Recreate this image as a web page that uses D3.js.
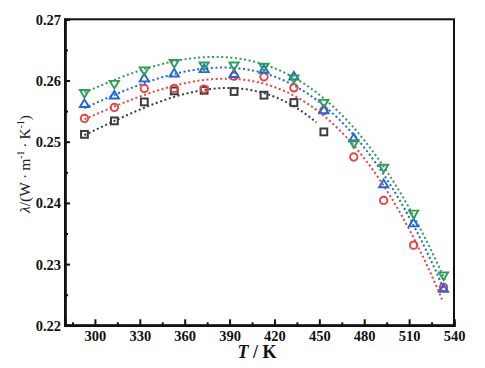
<!DOCTYPE html>
<html>
<head>
<meta charset="utf-8">
<script src="https://cdn.jsdelivr.net/npm/d3@7"></script>
<style>
  html, body { margin: 0; padding: 0; background: #fff; }
  svg { display: block; }
</style>
</head>
<body>
<svg id="chart" width="485" height="368"></svg>
<script>
// ---- data ----
const temps = [293, 313, 333, 353, 373, 393, 413, 433, 453, 473, 493, 513, 533];
const seriesBlack = [0.2512, 0.2534, 0.2565, 0.2583, 0.2584, 0.2582, 0.2576, 0.2564, 0.2516];
const seriesRed   = [0.2538, 0.2556, 0.2587, 0.2587, 0.2586, 0.2607, 0.2606, 0.2588, 0.2551, 0.2475, 0.2404, 0.2331, 0.2262];
const seriesBlue  = [0.2562, 0.2576, 0.2604, 0.2612, 0.2619, 0.2611, 0.2618, 0.2607, 0.2552, 0.2506, 0.2431, 0.2367, 0.2260];
const seriesGreen = [0.2579, 0.2594, 0.2616, 0.2628, 0.2624, 0.2624, 0.2622, 0.2603, 0.2563, 0.2497, 0.2457, 0.2382, 0.2281];

// dotted trend curves (samples)
const fitTBlack = [293, 313, 333, 353, 373, 393, 413, 433, 448];
const fitBlack  = [0.2511, 0.2533, 0.2556, 0.2574, 0.2585, 0.2586, 0.2578, 0.2561, 0.2530];
const fitTRed   = [293, 313, 333, 353, 373, 393, 413, 433, 453, 473, 493, 513, 532];
const fitRed    = [0.2538, 0.2557, 0.2575, 0.2591, 0.2600, 0.2602, 0.2596, 0.2580, 0.2543, 0.2490, 0.2428, 0.2340, 0.2245];
const fitTBlue  = [293, 313, 333, 353, 373, 393, 413, 433, 453, 473, 493, 513, 533];
const fitBlue   = [0.2556, 0.2574, 0.2598, 0.2611, 0.2617, 0.2617, 0.2613, 0.2598, 0.2562, 0.2509, 0.2440, 0.2364, 0.2262];
const fitTGreen = [293, 313, 333, 353, 373, 393, 413, 433, 453, 473, 493, 513, 534];
const fitGreen  = [0.2582, 0.2598, 0.2619, 0.2632, 0.2638, 0.2635, 0.2626, 0.2609, 0.2574, 0.2518, 0.2456, 0.2381, 0.2274];

const xTicks = [300, 330, 360, 390, 420, 450, 480, 510, 540];
const yTicks = [0.22, 0.23, 0.24, 0.25, 0.26, 0.27];

const series = [
  { values: seriesBlack, fitT: fitTBlack, fit: fitBlack, color: "#3c3c3c", marker: "square" },
  { values: seriesRed,   fitT: fitTRed,   fit: fitRed,   color: "#ec3f3f", marker: "circle" },
  { values: seriesBlue,  fitT: fitTBlue,  fit: fitBlue,  color: "#1f66dc", marker: "triangle" },
  { values: seriesGreen, fitT: fitTGreen, fit: fitGreen, color: "#2f9e55", marker: "triangleDown" }
];

// ---- layout ----
const svg = d3.select("#chart");
const margin = { left: 65, right: 31, top: 19.3, bottom: 42.7 };
const W = 485, H = 368;
const x = d3.scaleLinear().domain([280, 540]).range([margin.left, W - margin.right]);
const y = d3.scaleLinear().domain([0.22, 0.27]).range([H - margin.bottom, margin.top]);

// smooth the read curve samples with a cubic least-squares fit
function polyFit(xs, ys, deg) {
  const m = d3.mean(xs), sc = 100;
  const n = deg + 1;
  const S = Array.from({ length: n }, () => new Array(n).fill(0));
  const b = new Array(n).fill(0);
  xs.forEach((xv, i) => {
    const u = (xv - m) / sc;
    const p = d3.range(n).map(k => Math.pow(u, k));
    for (let r = 0; r < n; r++) {
      b[r] += p[r] * ys[i];
      for (let c = 0; c < n; c++) S[r][c] += p[r] * p[c];
    }
  });
  for (let i = 0; i < n; i++) {
    for (let k = i + 1; k < n; k++) {
      const f = S[k][i] / S[i][i];
      for (let c = i; c < n; c++) S[k][c] -= f * S[i][c];
      b[k] -= f * b[i];
    }
  }
  const a = new Array(n).fill(0);
  for (let i = n - 1; i >= 0; i--) {
    let s = b[i];
    for (let c = i + 1; c < n; c++) s -= S[i][c] * a[c];
    a[i] = s / S[i][i];
  }
  return t => { const u = (t - m) / sc; return a.reduce((acc, ak, k) => acc + ak * Math.pow(u, k), 0); };
}

// ---- frame ----
svg.append("rect")
  .attr("x", margin.left).attr("y", margin.top)
  .attr("width", W - margin.left - margin.right)
  .attr("height", H - margin.top - margin.bottom)
  .attr("fill", "none").attr("stroke", "#111").attr("stroke-width", 2);

// ---- axes ----
const fontFam = "'Liberation Serif', 'Times New Roman', serif";
const xAxis = d3.axisBottom(x).tickValues(xTicks).tickSize(-6).tickPadding(5).tickFormat(d3.format("d"));
const gx = svg.append("g").attr("transform", `translate(0,${H - margin.bottom})`).call(xAxis);
const xMinor = d3.axisBottom(x).tickValues(xTicks.map(v => v - 15)).tickSize(-3).tickFormat("");
const gxm = svg.append("g").attr("transform", `translate(0,${H - margin.bottom})`).call(xMinor);

const yAxis = d3.axisLeft(y).tickValues(yTicks).tickSize(-5).tickPadding(4).tickFormat(d3.format(".2f"));
const gy = svg.append("g").attr("transform", `translate(${margin.left},0)`).call(yAxis);
const yMinor = d3.axisLeft(y).tickValues(yTicks.slice(0, -1).map(v => v + 0.005)).tickSize(-3).tickFormat("");
const gym = svg.append("g").attr("transform", `translate(${margin.left},0)`).call(yMinor);

[gx, gxm, gy, gym].forEach(g => {
  g.select(".domain").attr("stroke", "#111").attr("stroke-width", 2.2);
  g.selectAll(".tick line").attr("stroke", "#111").attr("stroke-width", 2);
  g.selectAll(".tick text")
    .attr("font-family", fontFam).attr("font-weight", "bold")
    .attr("font-size", 14.5).attr("fill", "#111");
});
gy.selectAll(".tick text").attr("dy", "0.35em");

// axis titles
const xt = svg.append("text")
  .attr("x", 257).attr("y", 357.5)
  .attr("text-anchor", "middle")
  .attr("font-family", fontFam).attr("font-weight", "bold").attr("font-size", 18).attr("fill", "#111");
xt.append("tspan").attr("font-style", "italic").text("T");
xt.append("tspan").text(" / K");

const yt = svg.append("text")
  .attr("transform", `translate(30,164) rotate(-90)`)
  .attr("text-anchor", "middle")
  .attr("font-family", fontFam).attr("font-size", 15.5).attr("fill", "#222");
yt.append("tspan").attr("font-style", "italic").text("λ");
yt.append("tspan").text("/(W\u2009·\u2009m");
yt.append("tspan").attr("font-size", 9.5).attr("dy", -6).text("-1");
yt.append("tspan").attr("dy", 6).text("\u2009·\u2009K");
yt.append("tspan").attr("font-size", 9.5).attr("dy", -6).text("-1");
yt.append("tspan").attr("dy", 6).text(")");

// ---- dotted trend lines ----
const lineG = svg.append("g");
series.forEach(s => {
  const f = polyFit(s.fitT, s.fit, 3);
  const t0 = s.fitT[0], t1 = s.fitT[s.fitT.length - 1];
  const pts = d3.range(t0, t1 + 0.01, 1).map(t => [t, f(t)]);
  lineG.append("path")
    .datum(pts)
    .attr("d", d3.line().x(d => x(d[0])).y(d => y(d[1])).curve(d3.curveMonotoneX))
    .attr("fill", "none").attr("stroke", s.color).attr("stroke-width", 2)
    .attr("stroke-dasharray", "2,2.6");
});

// ---- markers ----
const mG = svg.append("g");
series.forEach(s => {
  const g = mG.append("g");
  s.values.forEach((v, i) => {
    const cx = x(temps[i]), cy = y(v);
    if (s.marker === "square") {
      g.append("rect").attr("x", cx - 3.4).attr("y", cy - 3.4).attr("width", 6.8).attr("height", 6.8)
        .attr("fill", "none").attr("stroke", s.color).attr("stroke-width", 2);
    } else if (s.marker === "circle") {
      g.append("circle").attr("cx", cx).attr("cy", cy).attr("r", 3.7)
        .attr("fill", "none").attr("stroke", s.color).attr("stroke-width", 1.9);
    } else if (s.marker === "triangle") {
      g.append("path").attr("d", `M${cx},${cy - 4.3}L${cx + 4.6},${cy + 3.3}L${cx - 4.6},${cy + 3.3}Z`)
        .attr("fill", "none").attr("stroke", s.color).attr("stroke-width", 1.9);
    } else {
      g.append("path").attr("d", `M${cx},${cy + 4.3}L${cx + 4.6},${cy - 3.3}L${cx - 4.6},${cy - 3.3}Z`)
        .attr("fill", "none").attr("stroke", s.color).attr("stroke-width", 1.9);
    }
  });
});
</script>
</body>
</html>
